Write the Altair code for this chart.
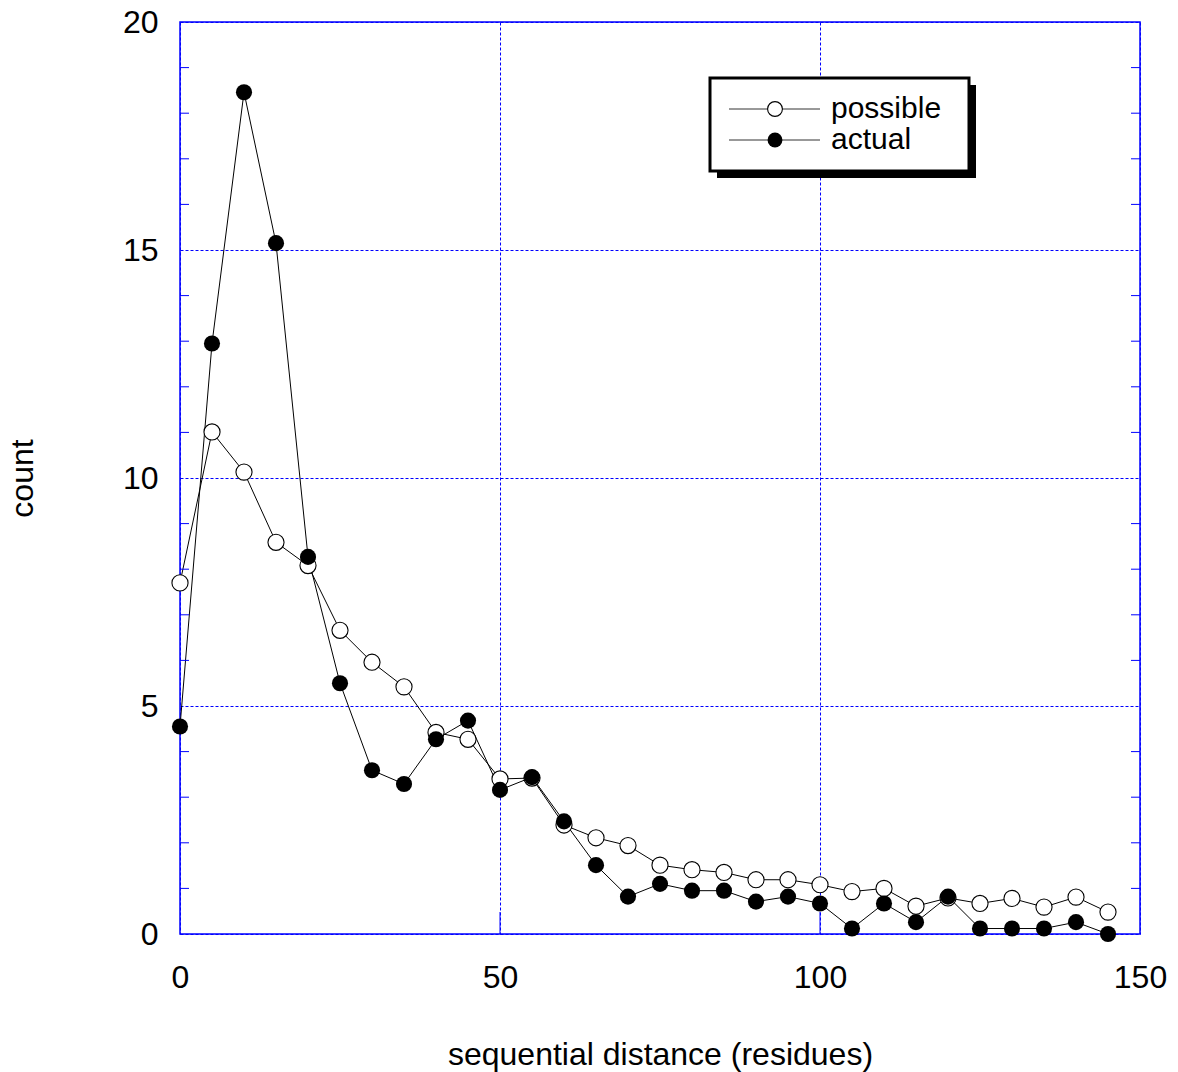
import altair as alt
import pandas as pd

# sequential distance bins (residues)
distance = [0, 5, 10, 15, 20, 25, 30, 35, 40, 45, 50, 55, 60, 65, 70,
            75, 80, 85, 90, 95, 100, 105, 110, 115, 120, 125, 130, 135, 140, 145]

# counts per bin
possible = [7.70, 11.01, 10.13, 8.59, 8.08, 6.66, 5.96, 5.42, 4.42, 4.27,
            3.40, 3.42, 2.39, 2.11, 1.94, 1.51, 1.41, 1.35, 1.19, 1.19,
            1.08, 0.93, 1.00, 0.61, 0.79, 0.67, 0.78, 0.59, 0.81, 0.48]
actual = [4.55, 12.95, 18.46, 15.15, 8.27, 5.50, 3.59, 3.29, 4.27, 4.68,
          3.16, 3.44, 2.47, 1.51, 0.82, 1.10, 0.95, 0.95, 0.71, 0.82,
          0.67, 0.12, 0.67, 0.26, 0.82, 0.12, 0.12, 0.12, 0.26, 0.00]

x_ticks = [0, 50, 100, 150]
y_ticks = [0, 5, 10, 15, 20]
y_minor = [1, 2, 3, 4, 6, 7, 8, 9, 11, 12, 13, 14, 16, 17, 18, 19]
x_major_inner = [50, 100]

W, H = 960, 912
FONT = "Liberation Sans"
BLUE = "#0000ff"

df = pd.DataFrame({"distance": distance, "possible": possible, "actual": actual})
x_scale = alt.Scale(domain=[0, 150], nice=False, zero=False)
y_scale = alt.Scale(domain=[0, 20], nice=False)

x_axis = alt.Axis(values=x_ticks, title="sequential distance (residues)",
                  grid=True, gridColor=BLUE, gridDash=[3, 2], gridWidth=1,
                  ticks=False, domain=False, labelPadding=28, labelFlush=False,
                  titleX=W / 2, titleY=120, titleBaseline="middle")
y_axis = alt.Axis(values=y_ticks, title="count",
                  grid=True, gridColor=BLUE, gridDash=[3, 2], gridWidth=1,
                  ticks=False, domain=False, labelPadding=22, labelFlush=False,
                  titleX=-158, titleY=H / 2, titleBaseline="middle")

x_enc = alt.X("distance:Q", scale=x_scale, axis=x_axis)

def y_enc(field):
    return alt.Y(f"{field}:Q", scale=y_scale, axis=y_axis)

base = alt.Chart(df)

line_possible = base.mark_line(color="black", strokeWidth=1).encode(x=x_enc, y=y_enc("possible"))
line_actual = base.mark_line(color="black", strokeWidth=1).encode(x=x_enc, y=y_enc("actual"))
pts_possible = base.mark_point(shape="circle", filled=True, fill="white", stroke="black",
                               strokeWidth=1.1, size=260, opacity=1).encode(x=x_enc, y=y_enc("possible"))
pts_actual = base.mark_point(shape="circle", filled=True, color="black",
                             size=260, opacity=1).encode(x=x_enc, y=y_enc("actual"))

# inward minor ticks on left and right edges
minor_df = pd.DataFrame({"v": y_minor})
tick_left = alt.Chart(minor_df).mark_rule(color=BLUE, strokeWidth=1).encode(
    y=alt.Y("v:Q", scale=y_scale, axis=y_axis),
    x=alt.value(0), x2=alt.value(9))
tick_right = alt.Chart(minor_df).mark_rule(color=BLUE, strokeWidth=1).encode(
    y=alt.Y("v:Q", scale=y_scale, axis=y_axis),
    x=alt.value(W - 9), x2=alt.value(W))

# inward major ticks on the bottom edge
major_df = pd.DataFrame({"v": x_major_inner})
tick_bottom = alt.Chart(major_df).mark_rule(color=BLUE, strokeWidth=1).encode(
    x=alt.X("v:Q", scale=x_scale, axis=x_axis),
    y=alt.value(H - 22), y2=alt.value(H))

# legend box with drop shadow
one = pd.DataFrame({"k": [0]})
LX0, LY0, LX1, LY1 = 530, 56, 789, 149
ROW_POSSIBLE, ROW_ACTUAL = 87, 118
shadow = alt.Chart(one).mark_rect(color="black").encode(
    x=alt.value(LX0 + 7), x2=alt.value(LX1 + 7), y=alt.value(LY0 + 7), y2=alt.value(LY1 + 7))
box = alt.Chart(one).mark_rect(fill="white", stroke="black", strokeWidth=3).encode(
    x=alt.value(LX0), x2=alt.value(LX1), y=alt.value(LY0), y2=alt.value(LY1))

def legend_row(label, y, filled):
    line = alt.Chart(one).mark_rule(color="#333333", strokeWidth=1).encode(
        x=alt.value(549), x2=alt.value(640), y=alt.value(y))
    if filled:
        sym = alt.Chart(one).mark_point(shape="circle", filled=True, color="black",
                                        size=220, opacity=1)
    else:
        sym = alt.Chart(one).mark_point(shape="circle", filled=True, fill="white",
                                        stroke="black", strokeWidth=1.1, size=220, opacity=1)
    sym = sym.encode(x=alt.value(595), y=alt.value(y))
    txt = alt.Chart(one).mark_text(align="left", baseline="middle", font=FONT,
                                   fontSize=30, color="black", text=label).encode(
        x=alt.value(651), y=alt.value(y))
    return [line, sym, txt]

legend_layers = legend_row("possible", ROW_POSSIBLE, False) + legend_row("actual", ROW_ACTUAL, True)

chart = alt.layer(
    line_possible, line_actual, pts_possible, pts_actual,
    tick_left, tick_right, tick_bottom,
    shadow, box, *legend_layers,
).properties(
    width=W, height=H,
    padding={"left": 180, "top": 22, "right": 38, "bottom": 138},
    autosize=alt.AutoSizeParams(type="none"),
    background="white",
).configure_view(
    stroke=BLUE, strokeWidth=1.5
).configure_axis(
    labelFont=FONT, titleFont=FONT, labelFontSize=32, titleFontSize=32,
    labelColor="black", titleColor="black", titleFontWeight="normal",
)

chart.save("out.html", embed_options={"renderer": "svg", "actions": False})
